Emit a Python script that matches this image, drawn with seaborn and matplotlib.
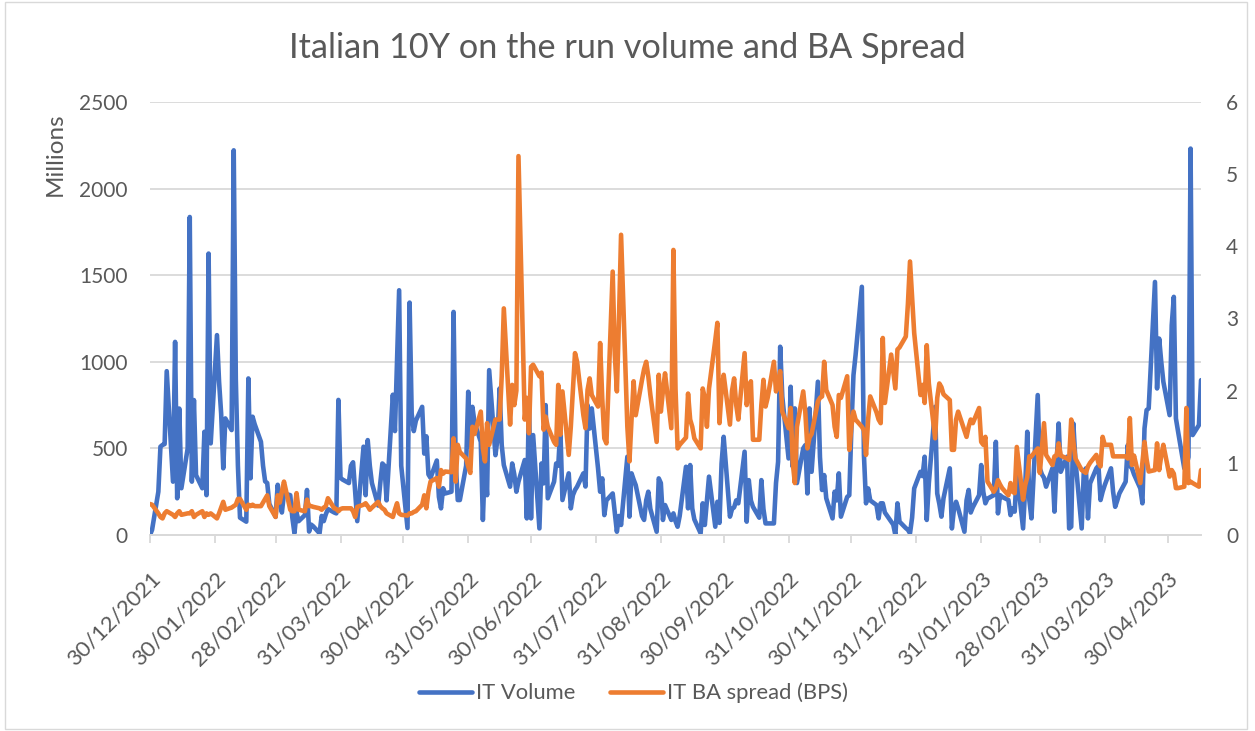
import matplotlib
matplotlib.use("Agg")
import matplotlib.pyplot as plt
import pandas as pd
import seaborn as sns

# business-day series, first value on 30/12/2021, last on 16/05/2023
start_date = "2021-12-30"

# IT Volume (millions), one list per month
vol_dec21 = [0, 30]
vol_jan22 = [250, 510, 520, 525, 946, 308, 1115, 212, 730, 270, 500, 1836, 308, 779, 346,
             270, 596, 230, 1625, 529, 1154]
vol_feb22 = [885, 700, 385, 673, 606, 2221, 900, 400, 100, 77, 904, 327, 683, 640, 538,
             400, 310, 300, 180, 105]
vol_mar22 = [290, 200, 130, 240, 230, 100, 10, 130, 80, 115, 260, 20, 60, 50, 10, 110, 80,
             120, 150, 130, 125, 780, 330]
vol_apr22 = [320, 300, 400, 420, 250, 80, 510, 230, 548, 400, 300, 170, 300, 413, 400, 200,
             810, 600, 1000, 1413, 400]
vol_may22 = [40, 1342, 700, 600, 660, 740, 470, 570, 350, 330, 430, 220, 154, 270, 240, 250,
             1288, 423, 202, 202, 400, 827]
vol_jun22 = [510, 740, 650, 538, 87, 433, 230, 952, 461, 558, 846, 519, 404, 279, 413, 350,
             250, 308, 433, 96, 788, 96]
vol_jul22 = [577, 38, 413, 298, 750, 212, 308, 413, 400, 615, 202, 356, 154, 230, 260, 279,
             356, 280, 750, 615, 731]
vol_aug22 = [385, 250, 327, 115, 200, 240, 130, 19, 110, 58, 452, 106, 356, 320, 288, 110,
             87, 200, 250, 150, 19, 327, 300]
vol_sep22 = [87, 173, 87, 125, 80, 48, 110, 394, 154, 404, 154, 90, 10, 183, 58, 200, 337,
             48, 192, 70, 413, 567]
vol_oct22 = [106, 150, 160, 200, 183, 481, 77, 317, 200, 163, 100, 317, 150, 67, 67, 67,
             300, 423, 1087, 800, 442]
vol_nov22 = [856, 394, 731, 300, 500, 519, 240, 731, 365, 885, 450, 260, 346, 212, 96, 250,
             200, 356, 106, 220, 230, 615]
vol_dec22 = [923, 1038, 1433, 461, 183, 269, 200, 173, 96, 183, 183, 130, 77, 60, 0, 183,
             77, 40, 30, 10, 100, 269]
vol_jan23 = [365, 340, 452, 87, 300, 740, 240, 180, 106, 212, 385, 38, 150, 192, 154, 19,
             200, 260, 130, 160, 230, 404]
vol_feb23 = [250, 183, 210, 230, 538, 125, 230, 220, 202, 115, 154, 135, 365, 38, 269, 596,
             200, 96, 808, 385]
vol_mar23 = [350, 330, 279, 385, 135, 413, 644, 365, 452, 38, 48, 644, 433, 38, 365, 385,
             96, 298, 385, 400, 202, 250, 288]
vol_apr23 = [385, 250, 163, 200, 240, 308, 519, 400, 385, 350, 269, 183, 615, 721, 731,
             1461, 846, 1134, 1000, 885]
vol_may23 = [692, 1211, 1375, 673, 600, 385, 400, 450, 2231, 577, 635, 894]

# IT BA spread (bps), one list per month
ba_dec21 = [0.43, 0.42]
ba_jan22 = [0.3, 0.25, 0.23, 0.3, 0.33, 0.28, 0.25, 0.3, 0.33, 0.28, 0.3, 0.3, 0.33, 0.25,
            0.28, 0.33, 0.25, 0.3, 0.28, 0.3, 0.23]
ba_feb22 = [0.3, 0.38, 0.46, 0.35, 0.38, 0.4, 0.42, 0.5, 0.5, 0.35, 0.42, 0.4, 0.42, 0.4,
            0.4, 0.45, 0.5, 0.55, 0.4, 0.25]
ba_mar22 = [0.55, 0.45, 0.6, 0.74, 0.35, 0.33, 0.33, 0.58, 0.35, 0.33, 0.49, 0.4, 0.4, 0.39,
            0.37, 0.35, 0.38, 0.4, 0.51, 0.37, 0.36, 0.33, 0.36]
ba_apr22 = [0.37, 0.37, 0.37, 0.33, 0.25, 0.39, 0.42, 0.44, 0.4, 0.35, 0.38, 0.46, 0.4, 0.37,
            0.35, 0.3, 0.25, 0.35, 0.44, 0.3, 0.28]
ba_may22 = [0.27, 0.3, 0.3, 0.32, 0.33, 0.42, 0.55, 0.37, 0.6, 0.74, 0.79, 0.67, 0.9, 0.85,
            0.88, 0.87, 1.34, 0.74, 1.25, 1.15, 1.06, 0.95]
ba_jun22 = [0.86, 1.5, 1.4, 1.71, 1.2, 1.02, 1.55, 1.25, 1.6, 1.6, 1.6, 2.2, 3.14, 1.53,
            2.08, 1.8, 2.0, 5.25, 1.6, 1.9, 1.41, 2.33]
ba_jul22 = [2.36, 2.2, 2.25, 1.46, 1.64, 1.5, 1.29, 1.25, 2.08, 1.39, 1.99, 1.11, 1.5, 2.0,
            2.52, 2.4, 1.66, 1.48, 2.01, 2.17, 1.94]
ba_aug22 = [1.78, 2.66, 1.9, 1.34, 1.27, 3.65, 2.5, 1.99, 3.0, 4.16, 1.5, 1.02, 1.6, 2.13,
            1.66, 2.15, 2.3, 2.4, 2.2, 1.94, 1.29, 2.22, 1.71]
ba_sep22 = [2.0, 2.24, 1.48, 3.95, 2.03, 1.2, 1.25, 1.35, 1.96, 1.6, 1.5, 1.34, 1.2, 2.03,
            1.9, 1.5, 2.03, 2.7, 2.94, 1.55, 2.0, 2.22]
ba_oct22 = [1.53, 2.0, 2.17, 1.8, 1.6, 2.52, 1.8, 2.0, 2.13, 1.32, 1.32, 1.8, 2.15, 1.78,
            1.9, 2.4, 1.99, 2.1, 2.27, 1.71, 1.48]
ba_nov22 = [1.76, 1.0, 0.72, 1.5, 1.99, 1.7, 1.2, 1.35, 1.4, 1.85, 1.9, 1.92, 2.4, 2.01,
            1.8, 1.5, 1.36, 1.94, 1.9, 2.2, 1.18, 1.5]
ba_dec22 = [1.71, 1.6, 1.5, 1.45, 1.11, 1.6, 1.92, 1.7, 1.6, 1.55, 2.73, 1.83, 2.5, 2.27,
            2.03, 2.57, 2.6, 2.75, 3.2, 3.79, 3.3, 2.8]
ba_jan23 = [1.94, 2.08, 1.83, 2.63, 2.1, 1.34, 1.9, 2.1, 2.05, 1.95, 1.87, 1.18, 1.18, 1.6,
            1.71, 1.45, 1.36, 1.5, 1.6, 1.55, 1.76, 1.29]
ba_feb23 = [1.25, 1.36, 0.74, 0.6, 0.65, 0.76, 0.7, 0.65, 0.55, 0.72, 0.6, 0.58, 1.22, 0.49,
            0.69, 0.8, 1.09, 1.09, 1.2, 0.86]
ba_mar23 = [1.2, 1.55, 1.11, 0.97, 1.09, 1.1, 1.27, 1.1, 1.06, 1.04, 1.6, 1.3, 1.06, 0.9,
            0.88, 0.86, 0.95, 1.0, 1.11, 1.0, 0.95, 1.36, 1.25]
ba_apr23 = [1.25, 1.09, 1.09, 1.09, 1.09, 1.09, 1.06, 1.62, 0.97, 1.1, 0.72, 1.0, 1.29, 1.05,
            0.88, 0.9, 1.27, 0.9, 1.1, 1.25]
ba_may23 = [0.81, 0.9, 0.85, 0.65, 0.65, 0.67, 1.76, 0.72, 0.74, 0.72, 0.67, 0.9]

tick_dates = ["2021-12-30", "2022-01-30", "2022-02-28", "2022-03-31", "2022-04-30",
              "2022-05-31", "2022-06-30", "2022-07-31", "2022-08-31", "2022-09-30",
              "2022-10-31", "2022-11-30", "2022-12-31", "2023-01-31", "2023-02-28",
              "2023-03-31", "2023-04-30"]
left_ticks = [0, 500, 1000, 1500, 2000, 2500]
right_ticks = [0, 1, 2, 3, 4, 5, 6]

it_volume = (vol_dec21 + vol_jan22 + vol_feb22 + vol_mar22 + vol_apr22 + vol_may22
             + vol_jun22 + vol_jul22 + vol_aug22 + vol_sep22 + vol_oct22 + vol_nov22
             + vol_dec22 + vol_jan23 + vol_feb23 + vol_mar23 + vol_apr23 + vol_may23)
ba_spread = (ba_dec21 + ba_jan22 + ba_feb22 + ba_mar22 + ba_apr22 + ba_may22 + ba_jun22
             + ba_jul22 + ba_aug22 + ba_sep22 + ba_oct22 + ba_nov22 + ba_dec22 + ba_jan23
             + ba_feb23 + ba_mar23 + ba_apr23 + ba_may23)

df = pd.DataFrame({
    "date": pd.bdate_range(start_date, periods=len(it_volume)),
    "IT Volume": it_volume,
    "IT BA spread (BPS)": ba_spread,
})

sns.set_theme(style="white")
plt.rcParams["font.family"] = ["Lato", "DejaVu Sans"]

text_col = "#595959"
grid_col = "#d9d9d9"
blue = "#4472C4"
orange = "#ED7D31"

fig = plt.figure(figsize=(12.55, 7.31), dpi=100)
ax = fig.add_axes([0.1195, 0.2681, 0.8375, 0.5924])
ax2 = ax.twinx()

sns.lineplot(data=df, x="date", y="IT Volume", ax=ax, color=blue, lw=3.3,
             label="IT Volume", legend=False)
sns.lineplot(data=df, x="date", y="IT BA spread (BPS)", ax=ax2, color=orange, lw=3.3,
             label="IT BA spread (BPS)", legend=False)

ax.set_xlim(df["date"].iloc[0], df["date"].iloc[-1])
ax.set_ylim(0, 2500)
ax2.set_ylim(0, 6)
ax.set_yticks(left_ticks)
ax2.set_yticks(right_ticks)
ax.set_xticks(pd.to_datetime(tick_dates))
ax.set_xticklabels([pd.Timestamp(d).strftime("%d/%m/%Y") for d in tick_dates],
                   rotation=45, ha="right", va="top", rotation_mode="anchor")

ax.grid(axis="y", color=grid_col, lw=1.3)
ax.grid(axis="x", visible=False)
ax2.grid(False)
for a in (ax, ax2):
    for s in ("top", "left", "right"):
        a.spines[s].set_visible(False)
    a.spines["bottom"].set_color(grid_col)
    a.spines["bottom"].set_linewidth(1.3)
ax.set_xlabel("")
ax.set_ylabel("")
ax2.set_ylabel("")

ax.tick_params(axis="x", colors=text_col, labelsize=16, length=6, width=1.3,
               color=grid_col, pad=18, bottom=True)
ax.tick_params(axis="y", colors=text_col, labelsize=15, length=0, pad=16)
ax2.tick_params(axis="y", colors=text_col, labelsize=15, length=0, pad=18)

fig.text(0.5, 1 - 48 / 731, "Italian 10Y on the run volume and BA Spread",
         ha="center", va="center", fontsize=24.7, color=text_col)
fig.text(55 / 1255, 1 - 154 / 731, "Millions", rotation=90, ha="center", va="center",
         fontsize=17.5, color=text_col)

h1, l1 = ax.get_legend_handles_labels()
h2, l2 = ax2.get_legend_handles_labels()
fig.legend(h1 + h2, l1 + l2, loc="center", bbox_to_anchor=(0.5 + 6 / 1255, 1 - 693 / 731),
           ncol=2, frameon=False, fontsize=15.8, handlelength=2.4, handletextpad=0.18,
           columnspacing=1.6, labelcolor=text_col)

fig.add_artist(plt.Rectangle((0.004, 0.003), 0.99, 0.994, transform=fig.transFigure,
                             fill=False, edgecolor=grid_col, lw=1))

fig.savefig("out.png", dpi=100)
